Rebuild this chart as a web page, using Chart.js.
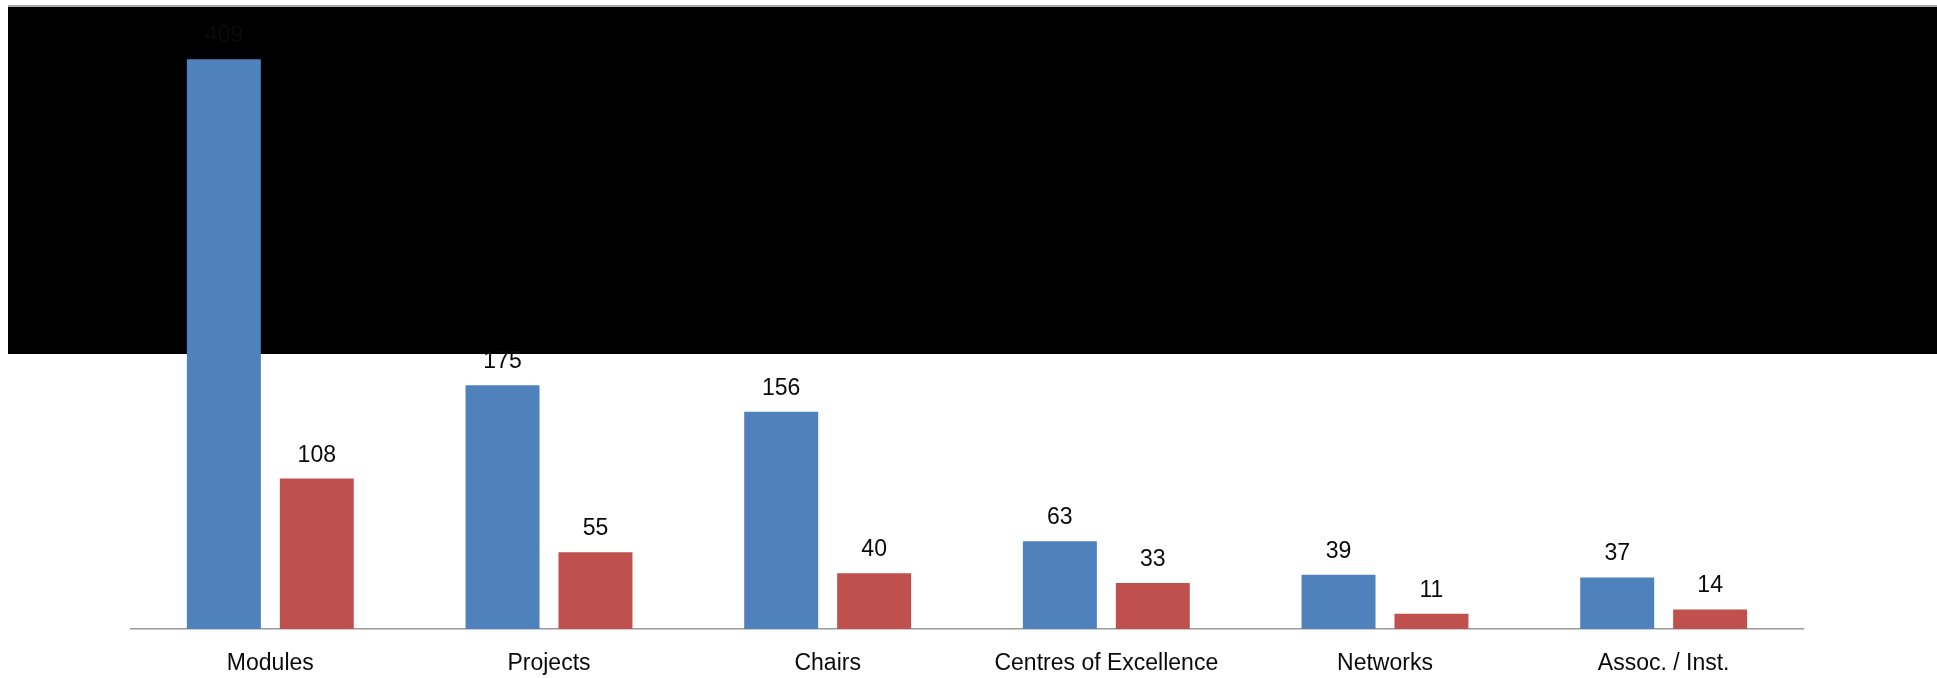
<!DOCTYPE html>
<html>
<head>
<meta charset="utf-8">
<script src="https://cdn.jsdelivr.net/npm/chart.js@4/dist/chart.umd.min.js"></script>
<style>
    html, body { margin: 0; padding: 0; background: #ffffff; }
    #wrap { width: 1937px; height: 678px; }
</style>
</head>
<body>
<div id="wrap"><canvas id="chart" width="1937" height="678"></canvas></div>
<script>
// values
const categories = ["Modules", "Projects", "Chairs", "Centres of Excellence", "Networks", "Assoc. / Inst."];
const blueValues = [409, 175, 156, 63, 39, 37];
const redValues = [108, 55, 40, 33, 11, 14];
const yMax = 450;

const fontFamily = "'Liberation Sans', Arial, sans-serif";

// black mask covering the top of the picture, drawn behind the bars
const maskPlugin = {
    id: 'mask',
    beforeDatasetsDraw(chart) {
        const ctx = chart.ctx;
        ctx.save();
        ctx.fillStyle = '#000000';
        ctx.fillRect(8, 7, chart.width - 8, 347);
        ctx.strokeStyle = '#8a8a8a';
        ctx.lineWidth = 1.5;
        ctx.beginPath();
        ctx.moveTo(8, 6);
        ctx.lineTo(chart.width, 6);
        ctx.stroke();
        ctx.restore();
    }
};

// value labels above each bar
const valueLabels = {
    id: 'valueLabels',
    afterDatasetsDraw(chart) {
        const ctx = chart.ctx;
        ctx.save();
        ctx.font = '23px ' + fontFamily;
        ctx.fillStyle = '#0a0a0a';
        ctx.textAlign = 'center';
        ctx.textBaseline = 'alphabetic';
        chart.data.datasets.forEach((ds, i) => {
            chart.getDatasetMeta(i).data.forEach((bar, j) => {
                ctx.fillText(String(ds.data[j]), bar.x, bar.y - 17);
            });
        });
        ctx.restore();
    }
};

const ctx = document.getElementById('chart').getContext('2d');
const chart = new Chart(ctx, {
    type: 'bar',
    data: {
        labels: categories,
        datasets: [{
            label: 'Series 1',
            data: blueValues,
            backgroundColor: '#4f81bd'
        }, {
            label: 'Series 2',
            data: redValues,
            backgroundColor: '#c0504d'
        }]
    },
    options: {
        responsive: false,
        animation: false,
        devicePixelRatio: 1,
        layout: {
            padding: { left: 131, right: 134, top: 2, bottom: 0 }
        },
        datasets: {
            bar: {
                categoryPercentage: 0.667,
                barPercentage: 0.796
            }
        },
        plugins: {
            legend: { display: false },
            tooltip: { enabled: false }
        },
        scales: {
            x: {
                grid: { display: false, drawTicks: false },
                border: { display: true, color: '#9a9a9a', width: 1.5 },
                ticks: {
                    color: '#0a0a0a',
                    padding: 21,
                    font: { family: fontFamily, size: 23 }
                },
                afterFit(scale) {
                    scale.height = 49;
                }
            },
            y: {
                display: false,
                min: 0,
                max: yMax
            }
        }
    },
    plugins: [maskPlugin, valueLabels]
});
</script>
</body>
</html>
